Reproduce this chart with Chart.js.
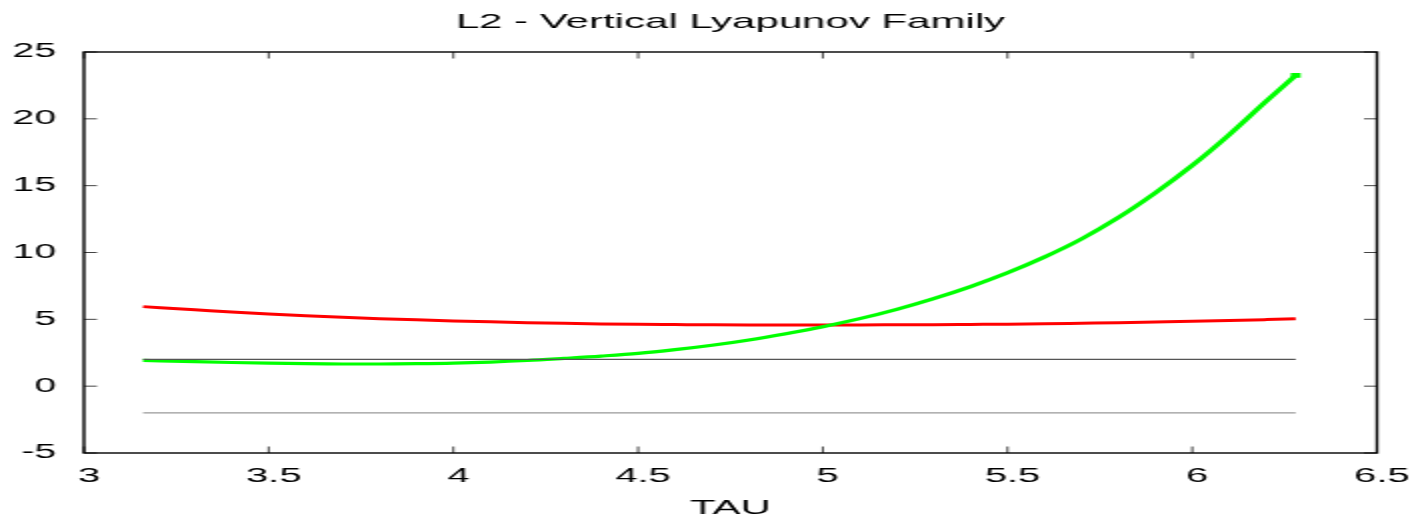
<!DOCTYPE html>
<html>
<head>
<meta charset="utf-8">
<title>L2 - Vertical Lyapunov Family</title>
<script src="https://cdn.jsdelivr.net/npm/chart.js@4.4.1/dist/chart.umd.min.js"></script>
<style>
  html, body { margin: 0; padding: 0; background: #fff; overflow: hidden; }
  /* la imagen original esta estirada al doble en horizontal */
  #wrap { width: 710px; height: 521px; transform: scaleX(2); transform-origin: 0 0; }
</style>
</head>
<body>
<div id="wrap"><canvas id="chart" width="710" height="521"></canvas></div>
<script>
// valores (TAU en el eje x)
const tau = [3.16, 3.3, 3.4, 3.5, 3.6, 3.7, 3.8, 3.9, 4.0, 4.1, 4.2, 4.3, 4.4, 4.5, 4.6, 4.7,
             4.8, 4.9, 5.0, 5.1, 5.2, 5.3, 5.4, 5.5, 5.6, 5.7, 5.8, 5.9, 6.0, 6.1, 6.2, 6.28];
const redSeries = [5.95, 5.72, 5.55, 5.40, 5.27, 5.15, 5.05, 4.96, 4.88, 4.81, 4.75, 4.70, 4.66, 4.63, 4.61, 4.59,
                   4.58, 4.58, 4.58, 4.58, 4.59, 4.60, 4.62, 4.64, 4.67, 4.71, 4.75, 4.80, 4.85, 4.91, 4.98, 5.04];
const greenSeries = [1.93, 1.83, 1.77, 1.72, 1.68, 1.66, 1.66, 1.68, 1.72, 1.80, 1.92, 2.08, 2.25, 2.45, 2.73, 3.06,
                     3.46, 3.93, 4.45, 5.05, 5.75, 6.55, 7.45, 8.48, 9.66, 11.01, 12.61, 14.46, 16.51, 18.81, 21.31, 23.25];
const boundTau = [3.16, 6.28];
const upperBound = [2, 2];
const lowerBound = [-2, -2];
const xTicks = [3, 3.5, 4, 4.5, 5, 5.5, 6, 6.5];
const yTicks = [-5, 0, 5, 10, 15, 20, 25];

const FONT = 'Liberation Sans';

function toPoints(xs, ys) {
    return xs.map((x, i) => ({ x: x, y: ys[i] }));
}

// marco tipo gnuplot con marcas hacia adentro
const framePlugin = {
    id: 'frame',
    afterDatasetsDraw(chart) {
        const { ctx, chartArea: a, scales } = chart;
        const len = 6.5;
        ctx.save();
        ctx.strokeStyle = '#444';
        ctx.lineWidth = 1;
        ctx.beginPath();
        yTicks.forEach(v => {
            const y = scales.y.getPixelForValue(v);
            ctx.moveTo(a.left, y); ctx.lineTo(a.left + len, y);
            ctx.moveTo(a.right, y); ctx.lineTo(a.right - len, y);
        });
        xTicks.forEach(v => {
            const x = scales.x.getPixelForValue(v);
            ctx.moveTo(x, a.bottom); ctx.lineTo(x, a.bottom - len);
            ctx.moveTo(x, a.top); ctx.lineTo(x, a.top + len);
        });
        ctx.stroke();
        ctx.strokeStyle = '#000';
        ctx.lineWidth = 1.4;
        ctx.strokeRect(a.left, a.top, a.right - a.left, a.bottom - a.top);
        ctx.restore();
    }
};

new Chart(document.getElementById('chart'), {
    type: 'line',
    data: {
        datasets: [
            {
                data: toPoints(boundTau, upperBound),
                borderColor: '#555',
                borderWidth: 1.3,
                pointRadius: 0
            },
            {
                data: toPoints(boundTau, lowerBound),
                borderColor: '#999',
                borderWidth: 1.3,
                pointRadius: 0
            },
            {
                data: toPoints(tau, greenSeries),
                borderColor: '#00ff00',
                backgroundColor: '#00ff00',
                borderWidth: 3.2,
                cubicInterpolationMode: 'monotone',
                pointStyle: 'rect',
                pointBorderWidth: 0,
                pointRadius: ctx => ctx.dataIndex === tau.length - 1 ? 3.5 : 0
            },
            {
                data: toPoints(tau, redSeries),
                borderColor: '#ff0000',
                borderWidth: 3,
                cubicInterpolationMode: 'monotone',
                pointRadius: 0
            }
        ]
    },
    options: {
        responsive: false,
        animation: false,
        devicePixelRatio: 1,
        layout: { padding: 0 },
        plugins: {
            legend: { display: false },
            tooltip: { enabled: false },
            title: {
                display: true,
                fullSize: false,
                text: 'L2 - Vertical Lyapunov Family',
                color: '#000',
                font: { family: FONT, size: 21, weight: 'normal' },
                padding: { top: 10, bottom: 16.8 }
            }
        },
        scales: {
            x: {
                type: 'linear',
                min: 3,
                max: 6.5,
                afterFit(s) {
                    s.height = 68;
                    s.paddingLeft = 0;
                    s.paddingRight = 21.5;
                },
                afterBuildTicks(s) { s.ticks = xTicks.map(v => ({ value: v })); },
                grid: { display: false, drawTicks: false },
                border: { display: false },
                ticks: {
                    color: '#000',
                    padding: 11,
                    labelOffset: 2.5,
                    maxRotation: 0,
                    font: { family: FONT, size: 20 },
                    callback: v => String(v)
                },
                title: {
                    display: true,
                    text: 'TAU',
                    color: '#000',
                    font: { family: FONT, size: 21 },
                    padding: { top: 0, bottom: 0 }
                }
            },
            y: {
                type: 'linear',
                min: -5,
                max: 25,
                afterFit(s) { s.width = 42; },
                afterBuildTicks(s) { s.ticks = yTicks.map(v => ({ value: v })); },
                grid: { display: false, drawTicks: false },
                border: { display: false },
                ticks: {
                    color: '#000',
                    padding: 14,
                    font: { family: FONT, size: 19.5 },
                    callback: v => String(v)
                }
            }
        }
    },
    plugins: [framePlugin]
});
</script>
</body>
</html>
